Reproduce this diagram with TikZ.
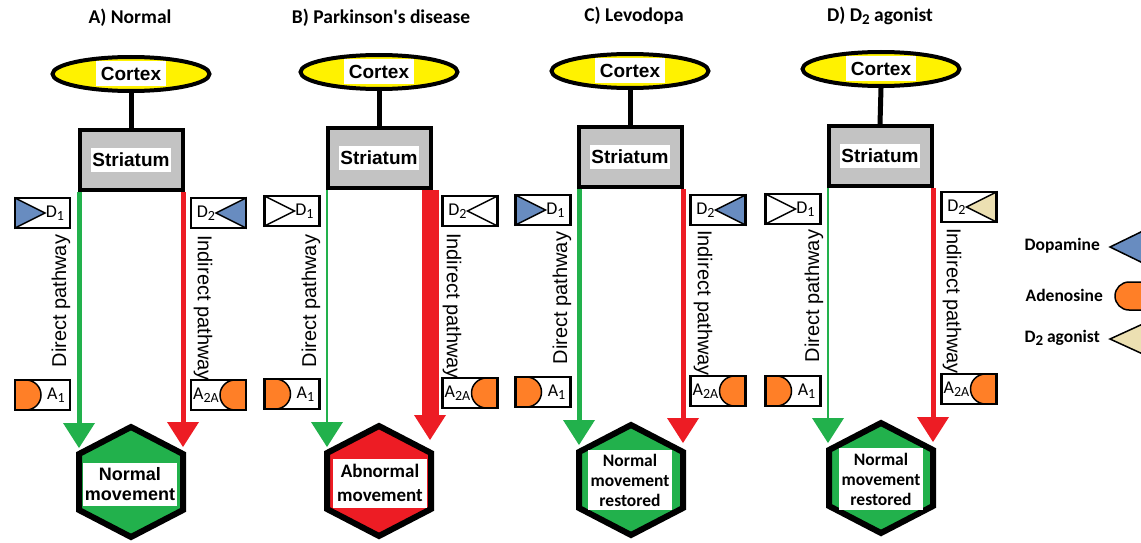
\documentclass[tikz,border=0pt]{standalone}
\usepackage{fontspec}
\setmainfont{Carlito}
\newfontfamily\arialf{Liberation Sans}
\usetikzlibrary{shapes.geometric,calc}
\definecolor{cyellow}{RGB}{255,242,0}
\definecolor{cgray}{RGB}{195,195,195}
\definecolor{cgreen}{RGB}{34,177,76}
\definecolor{cred}{RGB}{237,28,36}
\definecolor{cblue}{RGB}{104,140,192}
\definecolor{corange}{RGB}{255,127,39}
\definecolor{ctan}{RGB}{236,224,178}
\newcommand\subs[1]{\raisebox{-2.5pt}{\fontsize{14}{14}\selectfont #1}}
\newcommand\subt[1]{\raisebox{-2.5pt}{\fontsize{15}{15}\selectfont #1}}
\tikzset{
  title/.style={font=\bfseries\fontsize{19.5}{20}\selectfont},
  cortex/.style={ellipse, draw, line width=4pt, fill=cyellow, minimum width=157pt, minimum height=34pt},
  striat/.style={rectangle, draw, line width=4pt, fill=cgray, minimum width=103pt, minimum height=60pt},
  wlab/.style={fill=white, inner sep=0pt, font=\arialf\bfseries\fontsize{19}{19}\selectfont},
  link/.style={line width=5pt},
  hexa/.style={draw, line width=6pt, line join=miter},
  hlab/.style={fill=white, inner sep=0pt, align=center},
  rbox/.style={draw, line width=2.5pt, fill=white, minimum width=55pt, minimum height=30pt, outer sep=0pt, inner sep=0pt},
  rline/.style={draw, line width=2.5pt},
  rtext/.style={font=\fontsize{18}{18}\selectfont, inner sep=0pt},
  pw/.style={font=\arialf\fontsize{20}{20}\selectfont, inner sep=0pt},
  legend/.style={font=\bfseries\fontsize{17.5}{18}\selectfont, inner sep=0pt, anchor=east},
  ligand/.style={draw, line width=1.5pt, line join=miter}
}
% arrow head ending at a named coordinate
\newcommand\ahead[2]{\fill[#2] (#1) -- ++(-16,-25) -- ++(32,0) -- cycle;}
% receptor boxes
\newcommand\done[3]{%
  \node[rbox] (#1) at (#2) {};
  \filldraw[ligand, fill=#3] (#1.north west) -- ($(#1.west)+(30,0)$) -- (#1.south west) -- cycle;
  \draw[rline] (#1.north west) rectangle (#1.south east);
  \node[rtext] at ($(#1.east)+(-15,0)$) {D\subs{1}};}
\newcommand\dtwo[3]{%
  \node[rbox] (#1) at (#2) {};
  \filldraw[ligand, fill=#3] (#1.north east) -- ($(#1.east)+(-30,0)$) -- (#1.south east) -- cycle;
  \draw[rline] (#1.north west) rectangle (#1.south east);
  \node[rtext] at ($(#1.west)+(15,0)$) {D\subs{2}};}
\newcommand\aone[2]{%
  \node[rbox] (#1) at (#2) {};
  \filldraw[ligand, fill=corange] (#1.north west) -- ++(11,0) arc(-90:90:15) -- (#1.south west) -- cycle;
  \draw[rline] (#1.north west) rectangle (#1.south east);
  \node[rtext] at ($(#1.east)+(-14,0)$) {A\subs{1}};}
\newcommand\atwo[2]{%
  \node[rbox] (#1) at (#2) {};
  \filldraw[ligand, fill=corange] (#1.north east) -- ++(-11,0) arc(-90:-270:15) -- (#1.south east) -- cycle;
  \draw[rline] (#1.north west) rectangle (#1.south east);
  \node[rtext] at ($(#1.west)+(15,0)$) {A\subs{2A}};}
\newcommand\hexfill[2]{%
  \filldraw[hexa, fill=#2] ([shift={(0,-55)}]#1) -- ([shift={(52,-28)}]#1) -- ([shift={(52,28)}]#1)
    -- ([shift={(0,55)}]#1) -- ([shift={(-52,28)}]#1) -- ([shift={(-52,-28)}]#1) -- cycle;}
\begin{document}
\begin{tikzpicture}[x=1pt,y=-1pt]
\useasboundingbox[fill=white] (0,0) rectangle (1141,543);

% ================= Panel A =================
\node[title] at (130,18) {A) Normal};
\node[cortex] (cA) at (131,74) {};
\node[wlab, minimum width=70pt, minimum height=25pt] at (cA) {Cortex};
\node[striat] (sA) at (131,160) {};
\node[wlab, minimum width=80pt, minimum height=24pt] at (sA) {Striatum};
\draw[link] (cA.south) -- (sA.north);
\coordinate (hcA) at (131,482);
\hexfill{hcA}{cgreen}
\node[hlab, minimum width=94pt, minimum height=43pt, font=\arialf\bfseries\fontsize{18}{20}\selectfont] (hA) at (130,484) {Normal\\movement};
\coordinate (gA) at (79,448);
\coordinate (rA) at (183,447);
\draw[draw=cgreen, line width=5pt] (sA.south -| gA) -- ($(gA)+(0,-24)$);
\ahead{gA}{cgreen}
\draw[draw=cred, line width=5pt] (sA.south -| rA) -- ($(rA)+(0,-24)$);
\ahead{rA}{cred}
\done{dA1}{42.5,213}{cblue}
\dtwo{dA2}{218.5,213}{cblue}
\aone{aA1}{42.5,395}
\atwo{aA2}{218.5,395}
\node[pw, rotate=90] at (61,301) {Direct pathway};
\node[pw, rotate=-90] at (203,308) {Indirect pathway};

% ================= Panel B =================
\node[title] at (381,18) {B) Parkinson\textquotesingle s disease};
\node[cortex] (cB) at (379,72) {};
\node[wlab, minimum width=70pt, minimum height=25pt] at (cB) {Cortex};
\node[striat] (sB) at (379,158) {};
\node[wlab, minimum width=80pt, minimum height=24pt] at (sB) {Striatum};
\draw[link] (cB.south) -- (sB.north);
\coordinate (hcB) at (379,481);
\hexfill{hcB}{cred}
\node[hlab, minimum width=94pt, minimum height=49pt, font=\bfseries\fontsize{19}{24}\selectfont] (hB) at (380,483) {Abnormal\\movement};
\coordinate (gB) at (327,447);
\coordinate (rB) at (430,440);
\draw[draw=cgreen, line width=2.5pt] (sB.south -| gB) -- ($(gB)+(0,-24)$);
\ahead{gB}{cgreen}
\draw[draw=cred, line width=17pt] (sB.south -| rB) -- ($(rB)+(0,-24)$);
\ahead{rB}{cred}
\done{dB1}{292,211}{white}
\dtwo{dB2}{470,211}{white}
\aone{aB1}{292,394}
\atwo{aB2}{470,393}
\node[pw, rotate=90] at (311,301) {Direct pathway};
\node[pw, rotate=-90] at (452,306) {Indirect pathway};

% ================= Panel C =================
\node[title] at (634,16) {C) Levodopa};
\node[cortex] (cC) at (630,71) {};
\node[wlab, minimum width=70pt, minimum height=25pt] at (cC) {Cortex};
\node[striat] (sC) at (630,157) {};
\node[wlab, minimum width=80pt, minimum height=24pt] at (sC) {Striatum};
\draw[link] (cC.south) -- (sC.north);
\coordinate (hcC) at (631,480);
\hexfill{hcC}{cgreen}
\node[hlab, minimum width=84pt, minimum height=60pt, font=\bfseries\fontsize{17.5}{20}\selectfont] (hC) at (630,480) {Normal\\movement\\restored};
\coordinate (gC) at (579,445);
\coordinate (rC) at (683,443);
\draw[draw=cgreen, line width=5pt] (sC.south -| gC) -- ($(gC)+(0,-24)$);
\ahead{gC}{cgreen}
\draw[draw=cred, line width=5pt] (sC.south -| rC) -- ($(rC)+(0,-24)$);
\ahead{rC}{cred}
\done{dC1}{543,210}{cblue}
\dtwo{dC2}{718,210}{cblue}
\aone{aC1}{543,392}
\atwo{aC2}{718,391}
\node[pw, rotate=90] at (562,298) {Direct pathway};
\node[pw, rotate=-90] at (703,303) {Indirect pathway};

% ================= Panel D =================
\node[title] at (880,16) {D) D\subt{2} agonist};
\node[cortex] (cD) at (881,69) {};
\node[wlab, minimum width=70pt, minimum height=25pt] at (cD) {Cortex};
\node[striat] (sD) at (880,156) {};
\node[wlab, minimum width=80pt, minimum height=24pt] at (sD) {Striatum};
\draw[link] (cD.south) -- (sD.north);
\coordinate (hcD) at (881,478);
\hexfill{hcD}{cgreen}
\node[hlab, minimum width=84pt, minimum height=62pt, font=\bfseries\fontsize{17.5}{20}\selectfont] (hD) at (881,479) {Normal\\movement\\restored};
\coordinate (gD) at (828,443);
\coordinate (rD) at (933,442);
\draw[draw=cgreen, line width=2.5pt] (sD.south -| gD) -- ($(gD)+(0,-24)$);
\ahead{gD}{cgreen}
\draw[draw=cred, line width=5pt] (sD.south -| rD) -- ($(rD)+(0,-24)$);
\ahead{rD}{cred}
\done{dD1}{793,209}{white}
\dtwo{dD2}{969,207}{ctan}
\aone{aD1}{793,391}
\atwo{aD2}{969,389}
\node[pw, rotate=90] at (814,296) {Direct pathway};
\node[pw, rotate=-90] at (952,301) {Indirect pathway};

% ================= Legend =================
\node[legend] (lDop) at (1100,246) {Dopamine};
\filldraw[ligand, fill=cblue] (1110,247) -- (1145,230) -- (1145,264) -- cycle;
\node[legend] (lAde) at (1103,295) {Adenosine};
\filldraw[ligand, fill=corange] (1145,282) -- (1129,282) arc(-90:-270:14) -- (1145,310) -- cycle;
\node[legend] (lAgo) at (1100,338) {D\subt{2} agonist};
\filldraw[ligand, fill=ctan] (1110,339) -- (1145,323) -- (1145,355) -- cycle;
\end{tikzpicture}
\end{document}
